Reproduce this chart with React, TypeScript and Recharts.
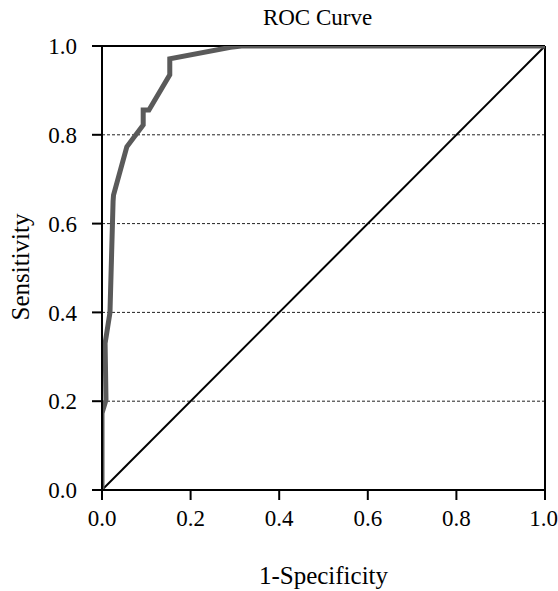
import React from 'react';
import {
    LineChart, Line, XAxis, YAxis, ReferenceLine
} from 'recharts';

// ROC curve points: [1-specificity, sensitivity]
const rocFpr = [0, 0, 0.009, 0.007, 0.018, 0.025, 0.026, 0.056, 0.093, 0.093, 0.106, 0.153, 0.153, 0.29, 0.315, 1];
const rocTpr = [0, 0.173, 0.203, 0.33, 0.4, 0.65, 0.664, 0.773, 0.822, 0.856, 0.856, 0.935, 0.971, 0.997, 1, 1];

const refFpr = [0, 1];
const refTpr = [0, 1];

const ticks = [0, 0.2, 0.4, 0.6, 0.8, 1];
const gridLines = [0.2, 0.4, 0.6, 0.8];

const rocData = rocFpr.map((x, i) => ({ x, y: rocTpr[i] }));
const refData = refFpr.map((x, i) => ({ x, y: refTpr[i] }));

const font = '"Liberation Serif", "Times New Roman", serif';
const fmt = (v: number) => v.toFixed(1);
const tickStyle = { fill: '#000', fontSize: 23, fontFamily: font };

const App: React.FC = () => {
    return (
        <div style={{ position: 'absolute', left: 0, top: 0, width: 558, height: 591, background: '#fff', fontFamily: font }}>
            <LineChart
                width={558}
                height={591}
                margin={{ top: 46, right: 13, left: 22, bottom: 61 }}
                style={{ fontFamily: font }}
            >
                {/* dashed horizontal grid at 0.2..0.8 */}
                {gridLines.map((g) => (
                    <ReferenceLine key={g} y={g} stroke="#222" strokeDasharray="3 2" strokeWidth={1} />
                ))}
                <ReferenceLine y={1} stroke="#000" strokeWidth={2} />
                <ReferenceLine x={1} stroke="#000" strokeWidth={2} />
                <XAxis
                    type="number"
                    dataKey="x"
                    domain={[0, 1]}
                    ticks={ticks}
                    tickFormatter={fmt}
                    height={40}
                    stroke="#000"
                    strokeWidth={2}
                    tickSize={10}
                    tickMargin={10}
                    tick={tickStyle}
                    allowDataOverflow
                />
                <YAxis
                    type="number"
                    dataKey="y"
                    domain={[0, 1]}
                    ticks={ticks}
                    tickFormatter={fmt}
                    width={80}
                    stroke="#000"
                    strokeWidth={2}
                    tickSize={10}
                    tickMargin={15}
                    tick={tickStyle}
                    allowDataOverflow
                />
                <Line
                    data={refData}
                    dataKey="y"
                    type="linear"
                    stroke="#000"
                    strokeWidth={2}
                    dot={false}
                    isAnimationActive={false}
                />
                <Line
                    data={rocData}
                    dataKey="y"
                    type="linear"
                    stroke="#5a5a5a"
                    strokeWidth={5}
                    strokeLinejoin="miter"
                    dot={false}
                    isAnimationActive={false}
                />
            </LineChart>
            <div style={{ position: 'absolute', top: 5, left: 96, width: 443, textAlign: 'center', fontSize: 23, lineHeight: 'normal' }}>
                ROC Curve
            </div>
            <div style={{ position: 'absolute', top: 562, left: 102, width: 443, textAlign: 'center', fontSize: 25, lineHeight: 'normal' }}>
                1-Specificity
            </div>
            <div
                style={{
                    position: 'absolute', left: 21, top: 267, fontSize: 25, whiteSpace: 'nowrap', lineHeight: 'normal',
                    transform: 'translate(-50%, -50%) rotate(-90deg)'
                }}
            >
                Sensitivity
            </div>
        </div>
    );
};

export default App;
